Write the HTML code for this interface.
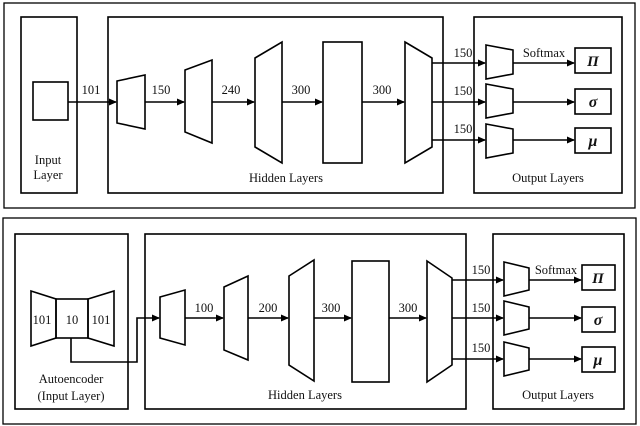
<!DOCTYPE html>
<html><head><style>body{margin:0;background:#fff}svg{display:block}text{font-family:"Liberation Serif",serif;font-size:12.5px;fill:#111}</style></head><body>
<svg width="640" height="426" viewBox="0 0 640 426" xmlns="http://www.w3.org/2000/svg">
<defs><marker id="a" markerWidth="8" markerHeight="8" refX="7" refY="4" orient="auto" markerUnits="userSpaceOnUse"><path d="M0,0.5 L8,4 L0,7.5z" fill="#000"/></marker></defs>
<g fill="none" stroke="#000" stroke-width="1.6">
<rect x="4" y="3" width="631" height="205" stroke-width="1.3"/>
<rect x="21" y="17" width="56" height="176"/>
<rect x="33" y="82" width="35" height="38"/>
<rect x="108" y="17" width="335" height="176"/>
<rect x="474" y="17" width="148" height="176"/>
<polygon points="117,81 145,75 145,129 117,123"/>
<polygon points="185,70 212,60 212,143 185,132"/>
<polygon points="255,58 282,42 282,163 255,147"/>
<rect x="323" y="42" width="39" height="121"/>
<polygon points="405,42 432,58 432,147 405,163"/>
<polygon points="486,45 513,50 513,74 486,79"/>
<polygon points="486,84 513,89 513,113 486,118"/>
<polygon points="486,124 513,129 513,153 486,158"/>
<rect x="575" y="48" width="36" height="25"/>
<rect x="575" y="89" width="36" height="25"/>
<rect x="575" y="128" width="36" height="25"/>
<line x1="68" y1="102" x2="116" y2="102" marker-end="url(#a)"/>
<line x1="145" y1="102" x2="184" y2="102" marker-end="url(#a)"/>
<line x1="212" y1="102" x2="254" y2="102" marker-end="url(#a)"/>
<line x1="282" y1="102" x2="322" y2="102" marker-end="url(#a)"/>
<line x1="362" y1="102" x2="404" y2="102" marker-end="url(#a)"/>
<line x1="432" y1="63" x2="485" y2="63" marker-end="url(#a)"/>
<line x1="432" y1="102" x2="485" y2="102" marker-end="url(#a)"/>
<line x1="432" y1="140" x2="485" y2="140" marker-end="url(#a)"/>
<line x1="513" y1="63" x2="574" y2="63" marker-end="url(#a)"/>
<line x1="513" y1="102" x2="574" y2="102" marker-end="url(#a)"/>
<line x1="513" y1="140" x2="574" y2="140" marker-end="url(#a)"/>
<rect x="3" y="218" width="633" height="206" stroke-width="1.3"/>
<rect x="15" y="234" width="113" height="175"/>
<rect x="145" y="234" width="321" height="175"/>
<rect x="493" y="234" width="131" height="175"/>
<polygon points="31,291 56,299 56,338 31,346"/>
<rect x="56" y="299" width="32" height="39"/>
<polygon points="88,299 114,291 114,346 88,338"/>
<polyline points="71,338 71,362 137,362 137,318 159,318" marker-end="url(#a)"/>
<polygon points="160,297 185,290 185,345 160,338"/>
<polygon points="224,287 248,276 248,360 224,350"/>
<polygon points="289,276 314,260 314,381 289,365"/>
<rect x="352" y="261" width="37" height="121"/>
<polygon points="427,261 452,278 452,365 427,382"/>
<polygon points="504,262 529,268 529,290 504,296"/>
<polygon points="504,301 529,307 529,329 504,335"/>
<polygon points="504,342 529,348 529,370 504,376"/>
<rect x="582" y="265" width="33" height="25"/>
<rect x="582" y="307" width="33" height="25"/>
<rect x="582" y="347" width="33" height="25"/>
<line x1="185" y1="318" x2="223" y2="318" marker-end="url(#a)"/>
<line x1="248" y1="318" x2="288" y2="318" marker-end="url(#a)"/>
<line x1="314" y1="318" x2="351" y2="318" marker-end="url(#a)"/>
<line x1="389" y1="318" x2="426" y2="318" marker-end="url(#a)"/>
<line x1="452" y1="280" x2="503" y2="280" marker-end="url(#a)"/>
<line x1="452" y1="318" x2="503" y2="318" marker-end="url(#a)"/>
<line x1="452" y1="359" x2="503" y2="359" marker-end="url(#a)"/>
<line x1="529" y1="280" x2="581" y2="280" marker-end="url(#a)"/>
<line x1="529" y1="318" x2="581" y2="318" marker-end="url(#a)"/>
<line x1="529" y1="359" x2="581" y2="359" marker-end="url(#a)"/>
</g>
<g text-anchor="middle">
<text x="48" y="164">Input</text><text x="48" y="179">Layer</text>
<text x="286" y="182">Hidden Layers</text>
<text x="548" y="182">Output Layers</text>
<text x="91" y="94">101</text><text x="161" y="94">150</text><text x="231" y="94">240</text><text x="301" y="94">300</text><text x="382" y="94">300</text>
<text x="463" y="57">150</text><text x="463" y="95">150</text><text x="463" y="133">150</text>
<text x="544" y="57">Softmax</text>
<text x="593" y="66" style="font-size:15px;font-style:italic;font-weight:bold">Π</text>
<text x="593" y="107" style="font-size:16px;font-style:italic;font-weight:bold">σ</text>
<text x="593" y="146" style="font-size:16px;font-style:italic;font-weight:bold">μ</text>
<text x="42" y="324">101</text><text x="72" y="324">10</text><text x="101" y="324">101</text>
<text x="71" y="383">Autoencoder</text><text x="71" y="400">(Input Layer)</text>
<text x="305" y="399">Hidden Layers</text>
<text x="558" y="399">Output Layers</text>
<text x="204" y="312">100</text><text x="268" y="312">200</text><text x="331" y="312">300</text><text x="408" y="312">300</text>
<text x="481" y="274">150</text><text x="481" y="312">150</text><text x="481" y="352">150</text>
<text x="556" y="274">Softmax</text>
<text x="598" y="283" style="font-size:15px;font-style:italic;font-weight:bold">Π</text>
<text x="598" y="325" style="font-size:16px;font-style:italic;font-weight:bold">σ</text>
<text x="598" y="365" style="font-size:16px;font-style:italic;font-weight:bold">μ</text>
</g>
</svg>
</body></html>
